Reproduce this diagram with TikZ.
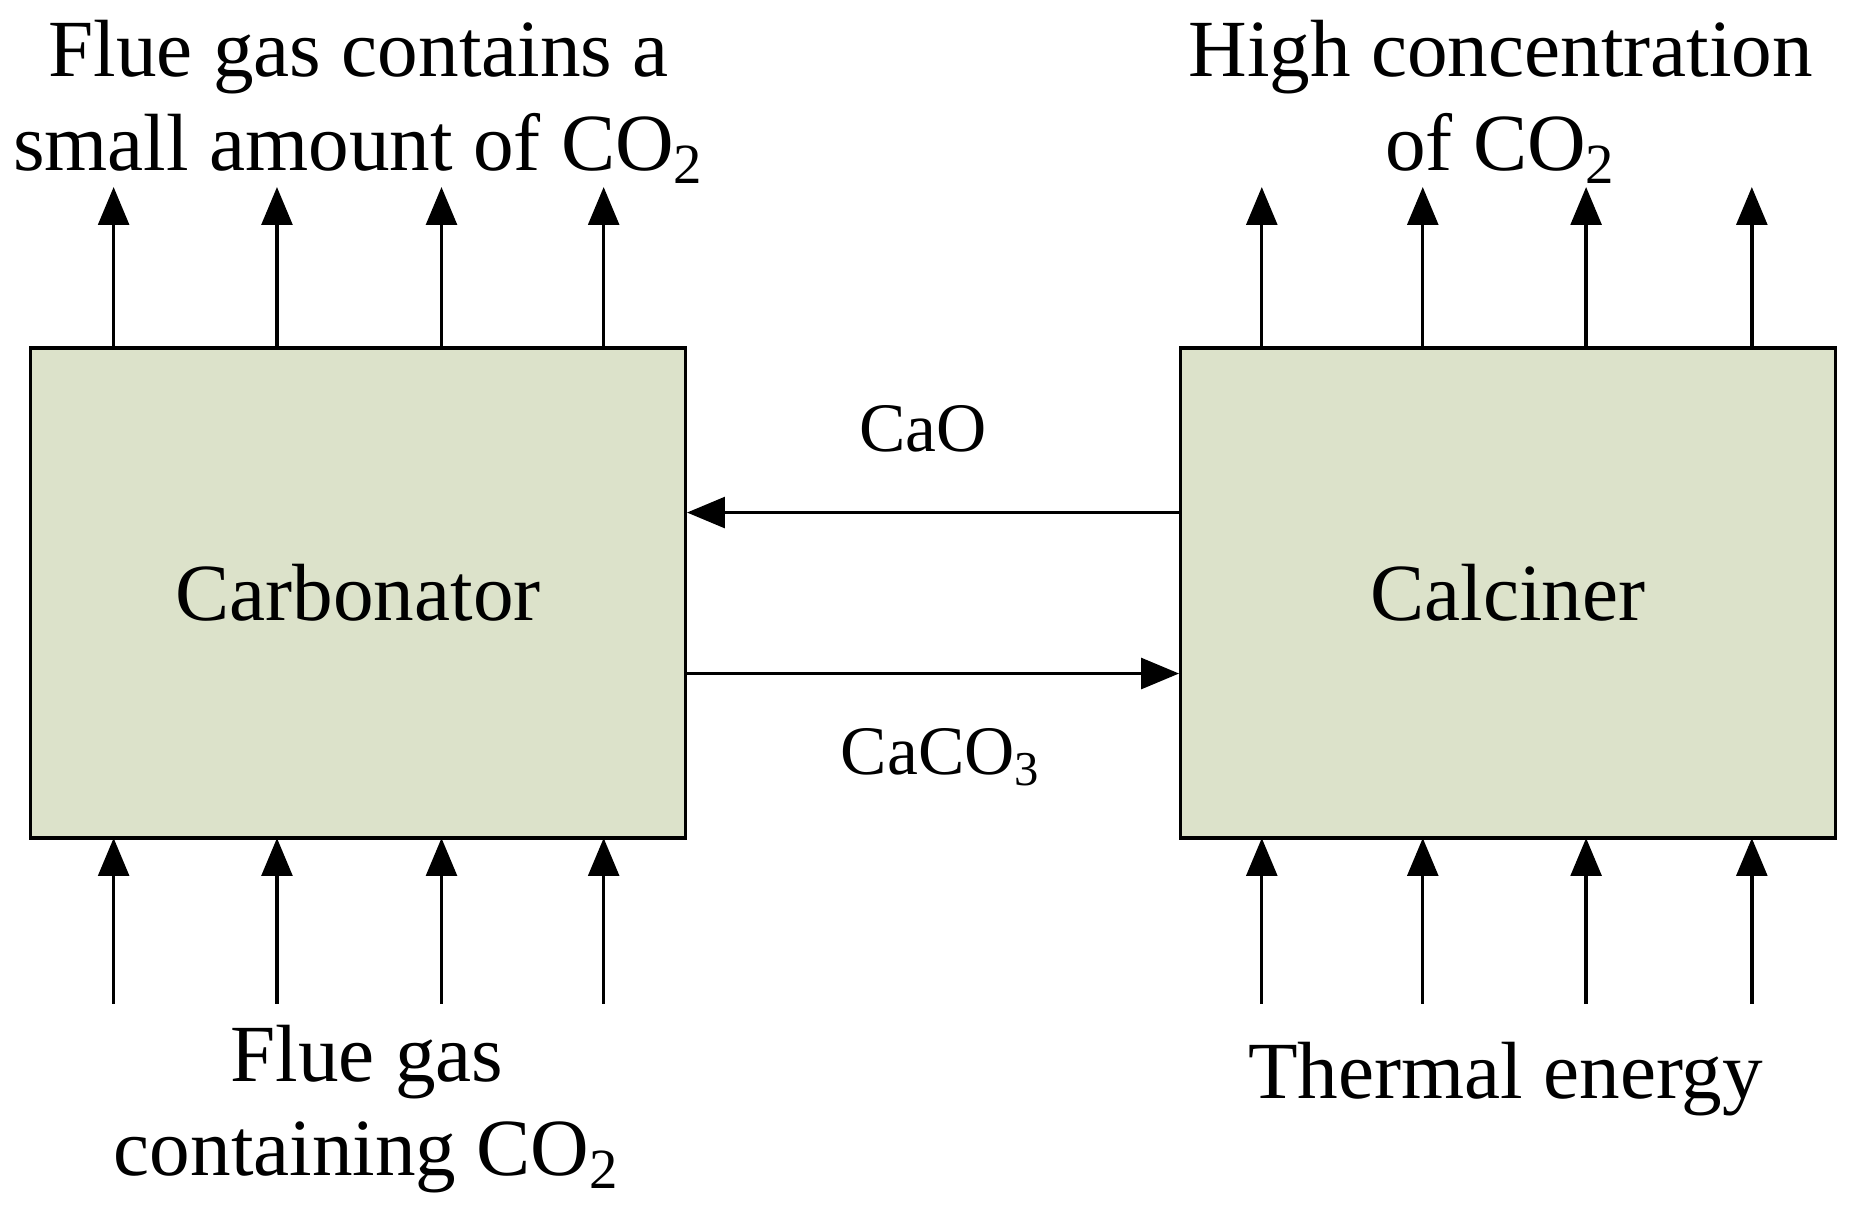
\documentclass[tikz,border=0pt]{standalone}
\usepackage{fontspec}
\setmainfont{Liberation Serif}
\usetikzlibrary{arrows.meta}
\definecolor{boxfill}{HTML}{DCE2CA}
\begin{document}
\begin{tikzpicture}[x=0.01cm,y=-0.01cm,
  box/.style={draw,line width=0.8pt,fill=boxfill,minimum width=553*0.01cm,minimum height=414*0.01cm,font=\fontsize{19.5}{22}\selectfont},
  arr/.style={line width=0.8pt,-{Triangle[width=0.26cm,length=0.32cm]}},
  big/.style={font=\fontsize{19.5}{22.7}\selectfont,align=center},
  lab/.style={font=\fontsize{16.7}{19}\selectfont}]
\useasboundingbox (0,0) rectangle (1568,1026);
\node[box] (carb) at (302.5,501) {Carbonator};
\node[box] (calc) at (1274,501) {Calciner};
\foreach \x in {96,234,373,510}{
  \coordinate (t\x) at (\x,158);
  \coordinate (b\x) at (\x,848);
  \draw[arr] (\x,294) -- (t\x);
  \draw[arr] (b\x) -- (\x,708);}
\foreach \x in {1066,1202,1340,1480}{
  \coordinate (t\x) at (\x,158);
  \coordinate (b\x) at (\x,848);
  \draw[arr] (\x,294) -- (t\x);
  \draw[arr] (b\x) -- (\x,708);}
\draw[arr] (calc.west |- 0,433) -- (carb.east |- 0,433);
\draw[arr] (carb.east |- 0,569) -- (calc.west |- 0,569);
\node[lab] (cao) at (780,362) {CaO};
\node[lab] (caco) at (795,640) {CaCO\textsubscript{3}};
\node[big] (tl) at (303,86) {Flue gas contains a\\small amount of CO\textsubscript{2}};
\node[big] (tr) at (1268,86) {High concentration\\of CO\textsubscript{2}};
\node[big] (bl) at (310,937) {Flue gas\\containing CO\textsubscript{2}};
\node[big] (br) at (1272,912) {Thermal energy};
\end{tikzpicture}
\end{document}
